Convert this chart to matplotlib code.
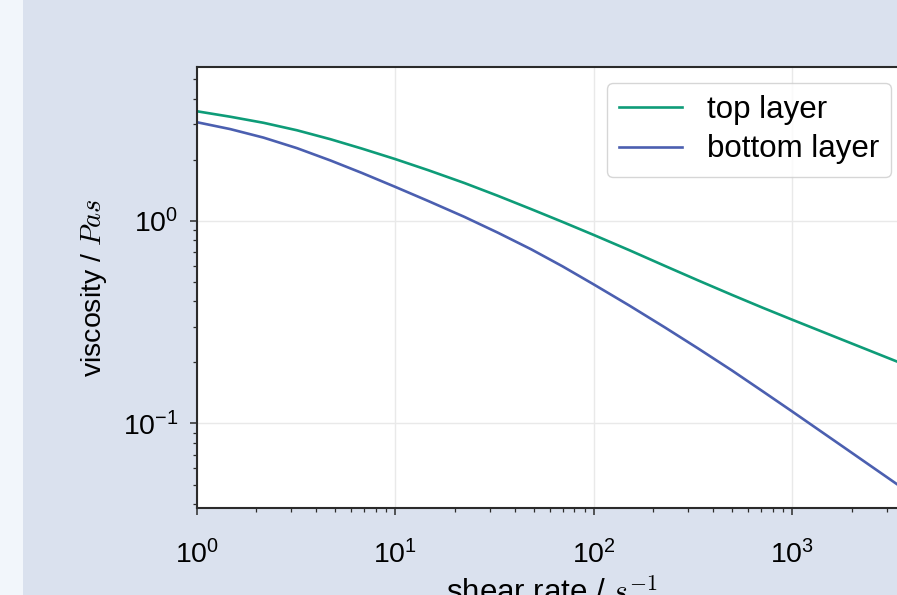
import matplotlib
matplotlib.use("Agg")
import matplotlib.pyplot as plt
from matplotlib.patches import Rectangle

plt.rcParams['font.family'] = ['Liberation Sans', 'DejaVu Sans']
plt.rcParams['mathtext.fontset'] = 'cm'

# shear rate [1/s] and viscosity [Pa s]
shear_rate = [1.0, 1.475, 2.17, 3.2, 4.72, 6.78, 10.0, 14.7, 22.3, 32.9, 48.4, 69.6,
              100.0, 151.0, 229.0, 337.0, 498.0, 714.0, 1000.0, 1811.0, 3342.0, 5000.0]
visc_top = [3.467, 3.258, 3.041, 2.793, 2.523, 2.270, 2.014, 1.774, 1.535, 1.327, 1.141, 0.987,
            0.851, 0.716, 0.598, 0.507, 0.4305, 0.3715, 0.325, 0.2576, 0.2028, 0.1734]
visc_bottom = [3.062, 2.831, 2.570, 2.280, 1.982, 1.722, 1.469, 1.250, 1.045, 0.873, 0.723, 0.596,
               0.4853, 0.382, 0.2972, 0.2339, 0.1824, 0.1436, 0.1146, 0.0766, 0.0505, 0.0384]
labels = ['top layer', 'bottom layer']
colors = ['#0e9c78', '#4b5fb0']

W, H = 897, 595
fig = plt.figure(figsize=(W / 100, H / 100), dpi=100, facecolor='#dae1ee')
fig.patches.append(Rectangle((0, 0), 23 / W, 1, transform=fig.transFigure,
                             facecolor='#f2f6fb', edgecolor='none', zorder=0))

# axes runs past the right edge of the picture (cropped screenshot)
left, right, top, bottom = 196.7, 907, 67, 508
ax = fig.add_axes([left / W, (H - bottom) / H, (right - left) / W, (bottom - top) / H])
ax.set_facecolor('white')

ax.plot(shear_rate, visc_top, color=colors[0], lw=1.9, label=labels[0])
ax.plot(shear_rate, visc_bottom, color=colors[1], lw=1.9, label=labels[1])

ax.set_xscale('log')
ax.set_yscale('log')
ax.set_xlim(1, 10 ** ((right - left) / 198.5))
ax.set_ylim(0.0383, 5.73)

ax.grid(True, which='major', color='#e9e9e9', lw=1)
ax.set_axisbelow(True)
for s in ax.spines.values():
    s.set_color('#2b2b2b')
    s.set_linewidth(1.5)

ax.tick_params(which='major', length=5, width=1.1, color='#2b2b2b', labelsize=20.5)
ax.tick_params(axis='x', which='major', pad=18)
ax.tick_params(axis='y', which='major', pad=8)
ax.tick_params(which='minor', length=3, width=0.9, color='#2b2b2b')
ax.tick_params(top=False, right=False, which='both')

ax.set_xlabel('shear rate / $s^{-1}$', fontsize=22.5, labelpad=7)
ax.set_ylabel('viscosity / $Pas$', fontsize=20.5, labelpad=10)

leg = ax.legend(loc='upper right', fontsize=22.5, frameon=True, fancybox=True,
                handlelength=2.0, borderpad=0.4, labelspacing=0.3)
leg.get_frame().set_edgecolor('#cccccc')
leg.get_frame().set_linewidth(1)

fig.savefig('out.png', dpi=100, facecolor=fig.get_facecolor())
